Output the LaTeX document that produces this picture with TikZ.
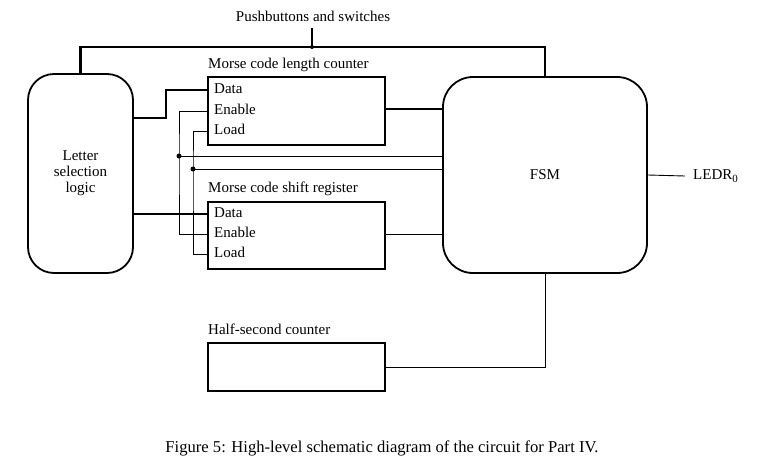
\documentclass[tikz,border=0pt]{standalone}
\usepackage{fontspec}
\setmainfont{Liberation Serif}
\begin{document}
\begin{tikzpicture}[x=1pt,y=-1pt,
  every node/.style={font=\fontsize{15}{16}\selectfont},
  fatwire/.style={line width=2.6pt},
  thinwire/.style={line width=0.9pt},
  blockbox/.style={draw,line width=2.6pt,inner sep=0pt},
  roundbox/.style={draw,line width=1.8pt,rounded corners=26pt,inner sep=0pt,align=center},
  porttext/.style={anchor=west,inner xsep=6pt,inner ysep=0pt,text height=1.6ex,text depth=0.2ex},
  labeltext/.style={anchor=base west,inner sep=0pt},
  junction/.style={circle,fill,inner sep=0pt,minimum size=5pt}]
\useasboundingbox (0,0) rectangle (783,469);
% blocks
\node[roundbox,minimum width=105pt,minimum height=199pt] (lsl) at (80.5,173.5) {Letter\\selection\\logic};
\node[roundbox,minimum width=204pt,minimum height=196pt,rounded corners=30pt] (fsm) at (545,175) {FSM};
\node[blockbox,minimum width=177pt,minimum height=68pt] (len) at (296.5,111) {};
\node[blockbox,minimum width=177pt,minimum height=67pt] (sh) at (296.5,235.5) {};
\node[blockbox,minimum width=177pt,minimum height=48pt] (half) at (296.5,367) {};
% labels
\node[labeltext] (lenlab) at (208,68) {Morse code length counter};
\node[labeltext] (shlab) at (208,192) {Morse code shift register};
\node[labeltext] (halflab) at (208,334) {Half-second counter};
\node[anchor=base,inner sep=0pt] (pb) at (313,21) {Pushbuttons and switches};
\node[anchor=west,inner sep=0pt] (ledr) at (693,176) {LEDR\raisebox{-0.4ex}{\fontsize{11}{11}\selectfont 0}};
\node[anchor=base,inner sep=0pt,font=\fontsize{16.6}{18}\selectfont] (cap) at (382,452) {Figure 5: High-level schematic diagram of the circuit for Part IV.};
% ports
\node[porttext] (lenD) at (208,90) {Data};
\node[porttext] (lenE) at (208,111) {Enable};
\node[porttext] (lenL) at (208,131) {Load};
\node[porttext] (shD) at (208,214) {Data};
\node[porttext] (shE) at (208,234) {Enable};
\node[porttext] (shL) at (208,254) {Load};
% junctions
\coordinate (jtop) at (312,47);
\node[junction,minimum size=4pt] (jt) at (jtop) {};
\node[junction] (jE) at (179,156) {};
\node[junction] (jL) at (193,169) {};
% wires
\draw[fatwire] (lsl.north) |- (jtop) -| (fsm.north);
\draw[fatwire] (jt.center |- 0,28) -- (jt.center);
\draw[fatwire] (lsl.east |- 0,118) -| (166,90) -- (lenD.west);
\draw[fatwire] (lsl.east |- shD.west) -- (shD.west);
\draw[fatwire] (len.east |- 0,109) -- (fsm.west |- 0,109);
\draw[thinwire] (lenE.west) -| (jE.center) |- (shE.west);
\draw[thinwire] (lenL.west) -| (jL.center) |- (shL.west);
\draw[thinwire] (jE.center) -- (fsm.west |- jE.center);
\draw[thinwire] (jL.center) -- (fsm.west |- jL.center);
\draw[thinwire] (sh.east |- shE.west) -- (fsm.west |- shE.west);
\draw[thinwire] (fsm.east) -- (ledr.west -| 685,0);
\draw[thinwire] (fsm.south) |- (half.east);
\end{tikzpicture}
\end{document}
